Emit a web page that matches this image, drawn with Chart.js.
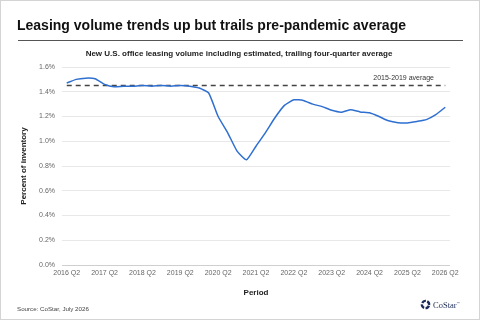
<!DOCTYPE html>
<html>
<head>
<meta charset="utf-8">
<script src="https://cdn.jsdelivr.net/npm/chart.js@4"></script>
<style>
  html, body { margin: 0; padding: 0; background: #fff; }
  #wrap { position: relative; width: 480px; height: 320px; box-sizing: border-box; border: 1px solid #d4d4d4; overflow: hidden; font-family: Arial, "Liberation Sans", sans-serif; }
  #chart { position: absolute; left: -1px; top: -1px; }
  .title { position: absolute; left: 16px; top: 16px; font-size: 14px; font-weight: bold; color: #111; white-space: nowrap; }
  .rule { position: absolute; left: 17px; top: 39px; width: 445px; height: 1px; background: #555; }
  .sub { position: absolute; left: 0; width: 476px; top: 48px; text-align: center; font-size: 8px; font-weight: bold; color: #222; white-space: nowrap; }
  .source { position: absolute; left: 16px; top: 304px; font-size: 6.2px; color: #444; white-space: nowrap; }
  .logo { position: absolute; left: 419px; top: 298px; display: flex; align-items: center; color: #1d2a57; font-family: "Liberation Serif", serif; font-size: 8.5px; }
  .logo svg { margin-right: 2px; }
</style>
</head>
<body>
<div id="wrap">
  <canvas id="chart" width="480" height="320"></canvas>
  <div class="title">Leasing volume trends up but trails pre-pandemic average</div>
  <div class="rule"></div>
  <div class="sub">New U.S. office leasing volume including estimated, trailing four-quarter average</div>
  <div class="source">Source: CoStar, July 2026</div>
  <div class="logo">
    <svg width="11" height="11" viewBox="0 0 11 11"><circle cx="5.5" cy="5.5" r="3.6" fill="none" stroke="#1d2a57" stroke-width="2.4" stroke-dasharray="4.2 1.5" transform="rotate(20 5.5 5.5)"/></svg>
    <span>CoStar<sup style="font-size:3px">™</sup></span>
  </div>
</div>
<script>
// quarters shown on the x axis
var quarters = [
    '2016 Q2', '2016 Q3', '2016 Q4', '2017 Q1', '2017 Q2', '2017 Q3', '2017 Q4',
    '2018 Q1', '2018 Q2', '2018 Q3', '2018 Q4', '2019 Q1', '2019 Q2', '2019 Q3', '2019 Q4',
    '2020 Q1', '2020 Q2', '2020 Q3', '2020 Q4', '2021 Q1', '2021 Q2', '2021 Q3', '2021 Q4',
    '2022 Q1', '2022 Q2', '2022 Q3', '2022 Q4', '2023 Q1', '2023 Q2', '2023 Q3', '2023 Q4',
    '2024 Q1', '2024 Q2', '2024 Q3', '2024 Q4', '2025 Q1', '2025 Q2', '2025 Q3', '2025 Q4',
    '2026 Q1', '2026 Q2'
];

// leasing volume, percent of inventory
var leasingPct = [
    1.47, 1.50, 1.51, 1.505, 1.46, 1.44, 1.445,
    1.445, 1.45, 1.445, 1.45, 1.445, 1.45, 1.445, 1.43,
    1.39, 1.20, 1.07, 0.92, 0.85, 0.96, 1.07, 1.19,
    1.29, 1.335, 1.33, 1.30, 1.28, 1.25, 1.235, 1.255,
    1.237, 1.23, 1.20, 1.165, 1.15, 1.148, 1.16, 1.175,
    1.215, 1.275
];

var avg2015to2019 = 1.45;
var yTicks = [0, 0.2, 0.4, 0.6, 0.8, 1.0, 1.2, 1.4, 1.6];

var avgLine = quarters.map(function() { return avg2015to2019; });

// label for the dashed average line
var avgLabel = {
    id: 'avgLabel',
    afterDatasetsDraw: function(chart) {
        var c = chart.ctx;
        var y = chart.scales.y.getPixelForValue(avg2015to2019);
        c.save();
        c.font = '7px Arial, "Liberation Sans", sans-serif';
        c.fillStyle = '#333';
        c.textAlign = 'right';
        c.textBaseline = 'middle';
        c.fillText('2015-2019 average', chart.chartArea.right - 16, y - 8);
        c.restore();
    }
};

var ctx = document.getElementById('chart').getContext('2d');
new Chart(ctx, {
    type: 'line',
    data: {
        labels: quarters,
        datasets: [{
            label: 'Leasing volume',
            data: leasingPct,
            borderColor: '#2f6fd0',
            borderWidth: 1.5,
            pointRadius: 0,
            tension: 0.15,
            fill: false
        }, {
            label: '2015-2019 average',
            data: avgLine,
            borderColor: '#444',
            borderWidth: 1.5,
            borderDash: [5, 4],
            pointRadius: 0,
            fill: false
        }]
    },
    options: {
        responsive: false,
        animation: false,
        devicePixelRatio: 1,
        layout: { padding: { left: 1, right: 30, top: 67, bottom: 0 } },
        plugins: {
            legend: { display: false },
            tooltip: { enabled: false }
        },
        scales: {
            x: {
                offset: true,
                grid: { display: false, drawTicks: false },
                border: { display: false },
                ticks: {
                    autoSkip: false,
                    maxRotation: 0,
                    minRotation: 0,
                    padding: 4,
                    color: '#666',
                    font: { size: 7, family: 'Arial, "Liberation Sans", sans-serif' },
                    callback: function(value, index) {
                        return index % 4 === 0 ? quarters[index] : '';
                    }
                },
                title: {
                    display: true,
                    text: 'Period',
                    color: '#222',
                    font: { size: 8, weight: 'bold', family: 'Arial, "Liberation Sans", sans-serif' },
                    padding: { top: 0, bottom: 22 }
                },
                afterFit: function(scale) { scale.height = 55; }
            },
            y: {
                min: 0,
                max: 1.6,
                grid: {
                    drawTicks: false,
                    color: function(c) { return c.tick.value === 0 ? '#cfcfcf' : '#e8e8e8'; }
                },
                border: { display: false },
                afterBuildTicks: function(scale) {
                    scale.ticks = yTicks.map(function(v) { return { value: v }; });
                },
                ticks: {
                    padding: 7,
                    color: '#666',
                    font: { size: 7, family: 'Arial, "Liberation Sans", sans-serif' },
                    callback: function(v) { return v.toFixed(1) + '%'; }
                },
                title: {
                    display: true,
                    text: 'Percent of inventory',
                    color: '#222',
                    font: { size: 8, weight: 'bold', family: 'Arial, "Liberation Sans", sans-serif' },
                    padding: { top: 18, bottom: 0 }
                },
                afterFit: function(scale) { scale.width = 61; }
            }
        }
    },
    plugins: [avgLabel]
});
</script>
</body>
</html>
